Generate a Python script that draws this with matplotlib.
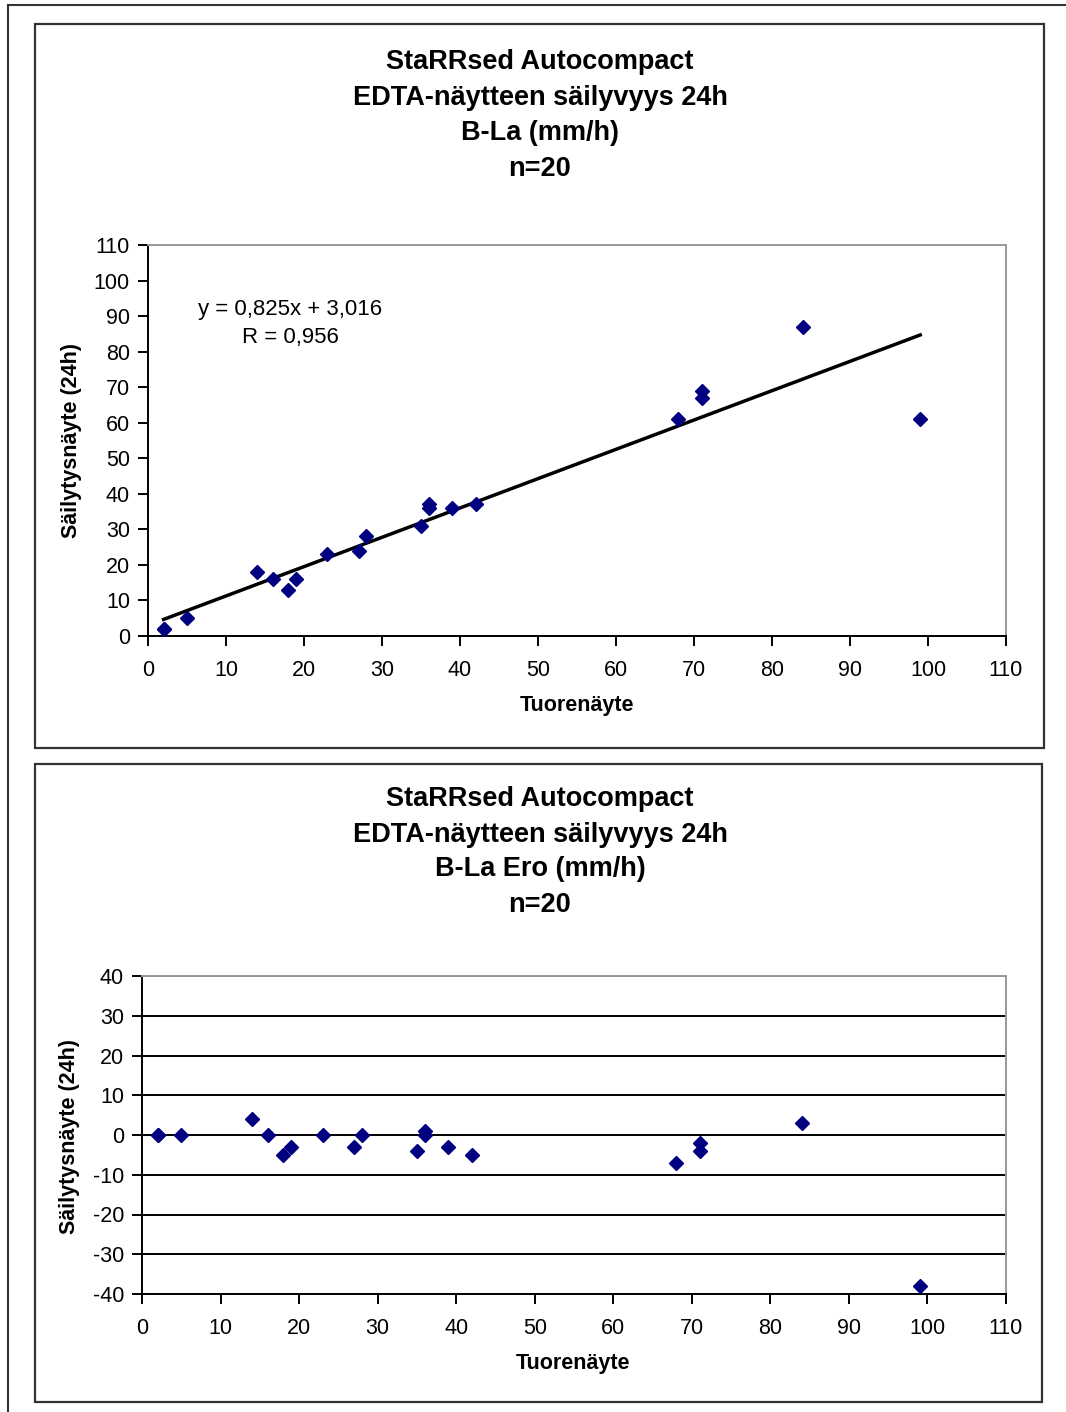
import numpy as np
import matplotlib
matplotlib.use("Agg")
import matplotlib.pyplot as plt
from matplotlib.patches import Rectangle
from matplotlib.lines import Line2D

plt.rcParams['font.family'] = ['Liberation Sans', 'DejaVu Sans']
plt.rcParams['axes.unicode_minus'] = False

# fresh sample (x) vs stored 24h sample (y), ESR mm/h
fresh = [2, 2, 5, 14, 16, 18, 19, 23, 27, 28, 35, 36, 36, 39, 42, 68, 71, 71, 84, 99]
stored = [2, 2, 5, 18, 16, 13, 16, 23, 24, 28, 31, 37, 36, 36, 37, 61, 69, 67, 87, 61]
slope = 0.825
intercept = 3.016

title1 = ["StaRRsed Autocompact", "EDTA-näytteen säilyvyys 24h", "B-La (mm/h)", "n=20"]
title2 = ["StaRRsed Autocompact", "EDTA-näytteen säilyvyys 24h", "B-La Ero (mm/h)", "n=20"]
xlab = "Tuorenäyte"
ylab = "Säilytysnäyte (24h)"

W, H = 1066, 1412
fig = plt.figure(figsize=(W / 100, H / 100), dpi=100)
fig.patch.set_facecolor("white")


def fx(px):
    return px / W


def fy(py):
    return 1 - py / H


# outer frame (only top and left visible)
fig.add_artist(Line2D([fx(8), 1], [fy(5), fy(5)], color="#333333", lw=1.5, transform=fig.transFigure))
fig.add_artist(Line2D([fx(8), fx(8)], [fy(5), 0], color="#333333", lw=1.5, transform=fig.transFigure))

# chart boxes
for (x0, y0, x1, y1) in [(35, 24, 1044, 748), (35, 764, 1042, 1402)]:
    fig.add_artist(Rectangle((fx(x0), fy(y1)), fx(x1) - fx(x0), fy(y0) - fy(y1), fill=False,
                             edgecolor="#333333", lw=1.6, transform=fig.transFigure))


def style_axes(ax):
    ax.spines['top'].set_color("#999999")
    ax.spines['right'].set_color("#999999")
    for s in ['left', 'bottom']:
        ax.spines[s].set_color("black")
    for s in ax.spines.values():
        s.set_linewidth(1.4)
    ax.tick_params(direction="out", length=7, width=1.4, color="black", labelsize=15.5)
    ax.tick_params(axis="y", pad=6)
    ax.tick_params(axis="x", pad=10)


# ---- top chart ----
ax1 = fig.add_axes([fx(148), fy(636), fx(1006) - fx(148), fy(245) - fy(636)])
ax1.plot(fresh, stored, linestyle="none", marker="D", ms=7, color="#000080", zorder=3)
xs = np.array([min(fresh), max(fresh)])
ax1.plot(xs, slope * xs + intercept, color="black", lw=2.5, zorder=2)
ax1.set_xlim(0, 110)
ax1.set_ylim(0, 110)
ax1.set_xticks(range(0, 111, 10))
ax1.set_yticks(range(0, 111, 10))
style_axes(ax1)

for t, yy in zip(title1, [62, 98, 133, 169]):
    fig.text(fx(540), fy(yy), t, ha="center", va="center", fontsize=19.5, fontweight="bold")
fig.text(fx(577), fy(706), xlab, ha="center", va="center", fontsize=15.5, fontweight="bold")
fig.text(fx(72), fy(441), ylab, ha="center", va="center", rotation=90, fontsize=15.5, fontweight="bold")
fig.text(fx(290), fy(309), "y = 0,825x + 3,016", ha="center", va="center", fontsize=16)
fig.text(fx(290), fy(337), "R = 0,956", ha="center", va="center", fontsize=16)

# ---- bottom chart: difference ----
diff = [s - f for s, f in zip(stored, fresh)]
ax2 = fig.add_axes([fx(142), fy(1294), fx(1006) - fx(142), fy(976) - fy(1294)])
ax2.plot(fresh, diff, linestyle="none", marker="D", ms=7, color="#000080", zorder=3)
ax2.set_xlim(0, 110)
ax2.set_ylim(-40, 40)
ax2.set_xticks(range(0, 111, 10))
ax2.set_yticks(range(-40, 41, 10))
ax2.yaxis.grid(True, color="black", lw=1.4)
ax2.set_axisbelow(True)
style_axes(ax2)

for t, yy in zip(title2, [799, 835, 869, 905]):
    fig.text(fx(540), fy(yy), t, ha="center", va="center", fontsize=19.5, fontweight="bold")
fig.text(fx(573), fy(1363), xlab, ha="center", va="center", fontsize=15.5, fontweight="bold")
fig.text(fx(70), fy(1136), ylab, ha="center", va="center", rotation=90, fontsize=15.5, fontweight="bold")

fig.savefig("out.png", dpi=100)
